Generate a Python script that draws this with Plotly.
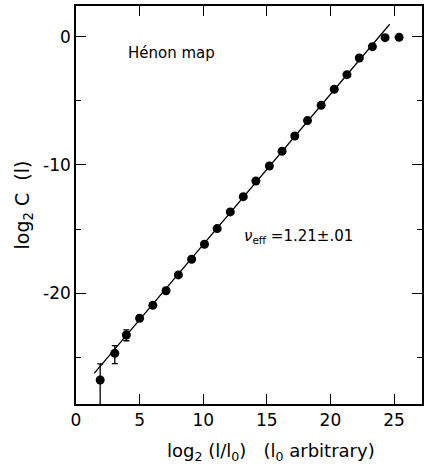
import plotly.graph_objects as go

# data
log2_l = [1.9, 3.05, 3.96, 5.0, 6.04, 7.08, 8.05, 9.09, 10.1, 11.1, 12.13, 13.15,
          14.14, 15.2, 16.2, 17.2, 18.2, 19.27, 20.3, 21.3, 22.27, 23.3, 24.3, 25.4]
log2_C = [-26.76, -24.68, -23.25, -21.95, -20.94, -19.8, -18.57, -17.35, -16.18,
          -14.96, -13.66, -12.47, -11.25, -10.08, -8.93, -7.74, -6.54, -5.35,
          -4.1, -2.96, -1.66, -0.78, -0.08, -0.05]
err_plus = [1.26, 0.6, 0.4, 0.2] + [0] * 20
err_minus = [2.5, 0.8, 0.45, 0.2] + [0] * 20
fit_x = [1.43, 24.66]
fit_y = [-26.24, 0.97]

x_ticks = [0, 5, 10, 15, 20, 25]
x_ticktext = ["0", "5", "10", "15", "20", "25"]
y_ticks = [0, -10, -20]
y_ticktext = ["0", "-10", "-20"]

font = dict(family="DejaVu Sans", color="black")
sp = "\u00a0"

fig = go.Figure()
fig.add_trace(go.Scatter(x=fit_x, y=fit_y, mode="lines",
                         line=dict(color="black", width=1.3), showlegend=False))
fig.add_trace(go.Scatter(
    x=log2_l, y=log2_C, mode="markers",
    marker=dict(color="black", size=9),
    error_y=dict(type="data", symmetric=False, array=err_plus, arrayminus=err_minus,
                 color="black", thickness=1.3, width=3),
    showlegend=False))

fig.add_annotation(x=7.54, y=-1.27, text="H\u00e9non map", showarrow=False,
                   font=dict(size=15, **font), xanchor="center", yanchor="middle")
fig.add_annotation(x=17.5, y=-15.6, text="<i>\u03bd</i><sub>eff</sub> =1.21\u00b1.01",
                   showarrow=False, font=dict(size=15, **font),
                   xanchor="center", yanchor="middle")
# x-axis title (placed as in the reference, right of centre)
fig.add_annotation(xref="paper", yref="paper", x=0.563, y=-0.12,
                   text=f"log<sub>2</sub>{sp}(l/l<sub>0</sub>){sp}{sp}{sp}(l<sub>0</sub>{sp}arbitrary)",
                   showarrow=False, font=dict(size=18, **font),
                   xanchor="center", yanchor="middle")

axis_common = dict(showline=True, linecolor="black", linewidth=1.5, mirror="ticks",
                   ticks="inside", ticklen=10, tickwidth=1.3, tickcolor="black",
                   showgrid=False, zeroline=False, tickfont=dict(size=17, **font))

fig.update_xaxes(range=[0, 27.2], tickvals=x_ticks, ticktext=x_ticktext, **axis_common)
fig.update_yaxes(range=[-28.63, 2.39], tickvals=y_ticks, ticktext=y_ticktext,
                 title=dict(text=f"log<sub>2</sub>{sp}C{sp}{sp}(l)", font=dict(size=19, **font),
                            standoff=8),
                 minor=dict(tickvals=[-5, -15, -25], ticks="inside", ticklen=5,
                            tickwidth=1.3, tickcolor="black"),
                 **axis_common)

fig.update_layout(width=426, height=468, margin=dict(l=76, r=2, t=6, b=64),
                  plot_bgcolor="white", paper_bgcolor="white")
fig.write_html("out.html")
